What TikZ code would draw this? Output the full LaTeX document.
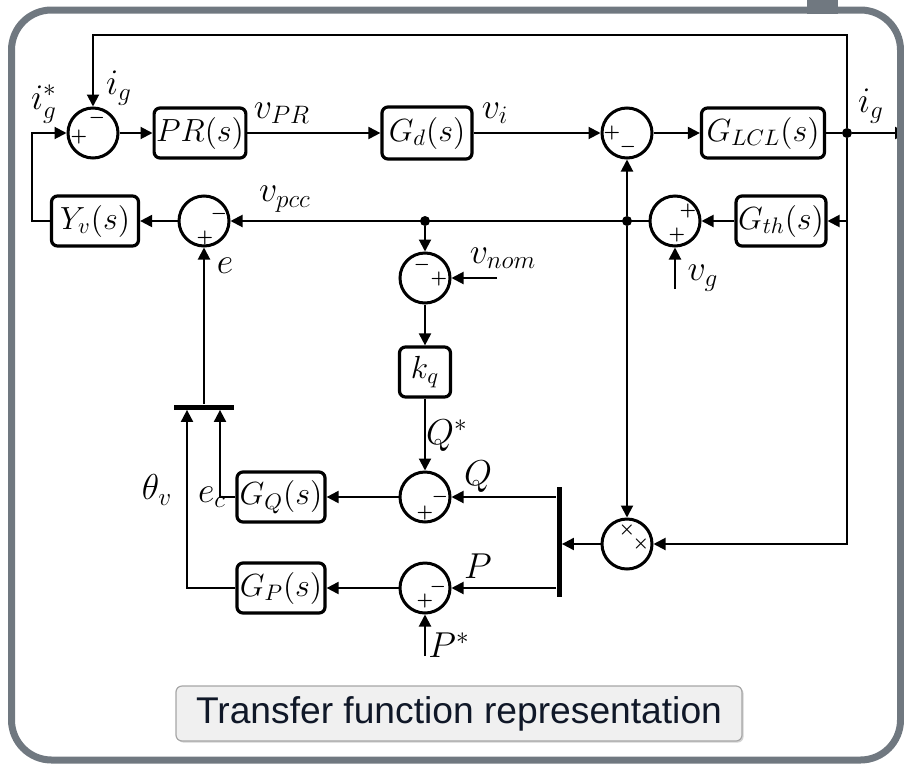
\RequirePackage{fix-cm}
\documentclass[tikz,border=0pt]{standalone}
\usepackage{amsmath}
\usepackage{fontspec}
\newfontfamily\capfont{Liberation Sans}
\usetikzlibrary{arrows.meta,calc,shadows}
\definecolor{FrameGray}{RGB}{112,120,128}
\definecolor{CapFill}{RGB}{240,240,240}
\definecolor{CapText}{RGB}{16,24,40}

\begin{document}
\begin{tikzpicture}[
    x=0.5pt, y=0.5pt,
    blk/.style={draw, rectangle, rounded corners=3pt, line width=1.6pt, fill=white, minimum height=25pt, inner sep=1pt, font=\fontsize{16}{19}\selectfont, drop shadow={shadow xshift=0.6pt, shadow yshift=-0.6pt, opacity=0.3}},
    sumc/.style={draw, circle, line width=1.5pt, fill=white, minimum size=25pt, inner sep=0pt, drop shadow={shadow xshift=0.6pt, shadow yshift=-0.6pt, opacity=0.3}},
    sgn/.style={inner sep=0pt, font=\fontsize{9}{9}\selectfont\boldmath},
    lbl/.style={inner sep=0pt, font=\fontsize{18}{21}\selectfont},
    dot/.style={circle, fill=black, minimum size=5pt, inner sep=0pt},
    bar/.style={fill=black, inner sep=0pt},
    sig/.style={line width=1pt, -{Triangle[length=6pt, width=6pt]}},
    wire/.style={line width=1pt},
    capbox/.style={draw=gray!70, fill=CapFill, rounded corners=3pt, line width=0.6pt, minimum width=283pt, minimum height=27.5pt, font=\capfont\fontsize{18.6}{22}\selectfont, text=CapText, drop shadow={shadow xshift=0.8pt, shadow yshift=-0.8pt, opacity=0.35}},
  ]
    \useasboundingbox (0,0) rectangle (904,-766);
    \fill[FrameGray] (807,0) rectangle (838,-14);

    \node[sumc] (s1) at (93,-133) {};
    \node[blk, minimum width=45.5pt] (pr) at (200,-133) {$PR(s)$};
    \node[blk, minimum width=45pt, minimum height=26pt] (gd) at (427,-133) {$G_d(s)$};
    \node[sumc] (s3) at (627,-133) {};
    \node[blk, minimum width=61.5pt] (gl) at (763,-133) {$G_{LCL}(s)$};
    \node[dot] (jg) at (847,-133) {};

    \node[blk, minimum width=43.5pt] (yv) at (95,-221) {$Y_v(s)$};
    \node[sumc] (s2) at (204,-221) {};
    \node[dot] (jn) at (425,-221) {};
    \node[dot] (jp) at (627,-221) {};
    \node[sumc] (s4) at (675,-221) {};
    \node[blk, minimum width=44pt] (gth) at (781,-221) {$G_{th}(s)$};

    \node[sumc] (snom) at (425,-278) {};
    \node[blk, minimum width=25.5pt] (kq) at (425,-372) {$k_q$};
    \node[sumc] (sq) at (425,-497) {};
    \node[blk, minimum width=44pt] (gq) at (281,-497) {$G_Q(s)$};
    \node[sumc] (sp) at (425,-588) {};
    \node[blk, minimum width=44pt] (gp) at (281,-588) {$G_P(s)$};
    \node[sumc] (prod) at (627,-544) {};
    \node[bar, minimum width=2.5pt, minimum height=55pt] (mux) at (559,-542) {};
    \node[bar, minimum width=30pt, minimum height=2.5pt] (mux2) at (204,-407) {};

    \coordinate (topy) at (0,-35);
    \coordinate (lft) at (32,0);
    \coordinate (vnomin) at (497,-278);
    \coordinate (vgin) at (675,-289);
    \coordinate (pstar) at (425,-656);
    \coordinate (igout) at (907,-133);

    \node[sgn] (s1a) at ($(s1)+(-14,-4)$) {$+$};
    \node[sgn] (s1b) at ($(s1)+(4,15)$) {$-$};
    \node[sgn] (s2a) at ($(s2)+(15,7)$) {$-$};
    \node[sgn] (s2b) at ($(s2)+(1,-17)$) {$+$};
    \node[sgn] (s3a) at ($(s3)+(-15,0)$) {$+$};
    \node[sgn] (s3b) at ($(s3)+(1,-14)$) {$-$};
    \node[sgn] (s4a) at ($(s4)+(13,10)$) {$+$};
    \node[sgn] (s4b) at ($(s4)+(2,-14)$) {$+$};
    \node[sgn] (sna) at ($(snom)+(-3,13)$) {$-$};
    \node[sgn] (snb) at ($(snom)+(14,-1)$) {$+$};
    \node[sgn] (sqa) at ($(sq)+(15,0)$) {$-$};
    \node[sgn] (sqb) at ($(sq)+(0,-16)$) {$+$};
    \node[sgn] (spa) at ($(sp)+(13,1)$) {$-$};
    \node[sgn] (spb) at ($(sp)+(0,-13)$) {$+$};
    \node[sgn] (pra) at ($(prod)+(0,14)$) {$\times$};
    \node[sgn] (prb) at ($(prod)+(14,0)$) {$\times$};

    \draw[sig] (s1) -- (pr);
    \draw[sig] (pr) -- (gd);
    \draw[sig] (gd) -- (s3);
    \draw[sig] (s3) -- (gl);
    \draw[wire] (gl) -- (jg);
    \draw[sig] (jg) -- (igout);
    \draw[sig] (jg) -- (jg |- topy) -| (s1);
    \draw[sig] (jg) -- (jg |- prod) -- (prod);
    \draw[sig] (jg |- gth) -- (gth);
    \draw[sig] (gth) -- (s4);
    \draw[sig] (vgin) -- (s4);
    \draw[sig] (s4) -- (s2);
    \draw[sig] (jp) -- (s3);
    \draw[sig] (jp) -- (prod);
    \draw[sig] (jn) -- (snom);
    \draw[sig] (vnomin) -- (snom);
    \draw[sig] (snom) -- (kq);
    \draw[sig] (kq) -- (sq);
    \draw[sig] (sq) -- (gq);
    \draw[sig] (pstar) -- (sp);
    \draw[sig] (sp) -- (gp);
    \draw[sig] (prod) -- (prod -| mux.east);
    \draw[sig] (mux.west |- sq) -- (sq);
    \draw[sig] (mux.west |- sp) -- (sp);
    \draw[sig] (s2) -- (yv);
    \draw[sig] (yv) -- (yv -| lft) |- (s1);
    \draw[sig] (gq) -| ([xshift=8pt]mux2.south);
    \draw[sig] (gp) -| ([xshift=-8.5pt]mux2.south);
    \draw[sig] (mux2) -- (s2);

    \node[lbl] (lisr) at (44,-104) {$i_g^*$};
    \node[lbl] (lig1) at (119,-88) {$i_g$};
    \node[lbl] (lvpr) at (282,-113) {$v_{PR}$};
    \node[lbl] (lvi) at (495,-113) {$v_i$};
    \node[lbl] (lig2) at (871,-106) {$i_g$};
    \node[lbl] (lvpcc) at (285,-199) {$v_{pcc}$};
    \node[lbl] (lvnom) at (503,-258) {$v_{nom}$};
    \node[lbl] (le) at (225,-266) {$e$};
    \node[lbl] (lvg) at (703,-278) {$v_g$};
    \node[lbl] (lqs) at (447,-436) {$Q^*$};
    \node[lbl] (lq) at (478,-477) {$Q$};
    \node[lbl] (lec) at (212,-497) {$e_c$};
    \node[lbl] (lth) at (157,-490) {$\theta_v$};
    \node[lbl] (lp) at (478,-566) {$P$};
    \node[lbl] (lps) at (449,-645) {$P^*$};

    \node[capbox] (cap) at (459,-713.5) {Transfer function representation};

    \draw[FrameGray, line width=3.5pt, rounded corners=20pt] (11.5,-10) rectangle (900.5,-760);
\end{tikzpicture}
\end{document}
